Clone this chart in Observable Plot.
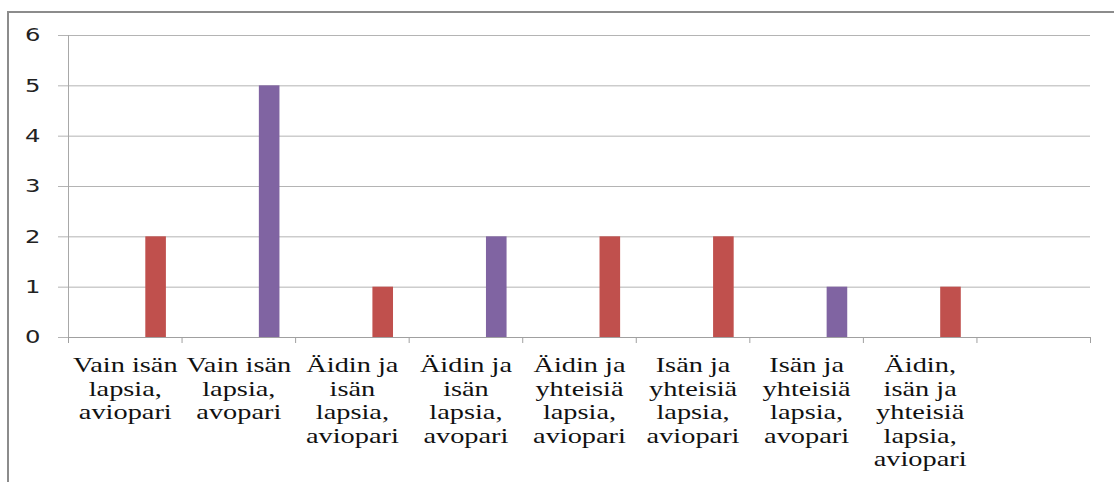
<!DOCTYPE html>
<html>
<head>
<meta charset="utf-8">
<script src="https://cdn.jsdelivr.net/npm/d3@7"></script>
<script src="https://cdn.jsdelivr.net/npm/@observablehq/plot@0.6"></script>
<style>
  html, body { margin: 0; padding: 0; background: #fff; }
  #wrap { position: relative; width: 1114px; height: 482px; overflow: hidden; }
  #border { position: absolute; left: 7px; top: 11px; right: -10px; bottom: -10px;
            border-left: 2px solid #8c8c8c; border-top: 2px solid #8c8c8c; pointer-events: none; }
  svg { display: block; }
  svg text.xlab, svg text.xlab tspan { font-family: "Liberation Serif", "Times New Roman", serif; font-size: 21px; }
  svg text.ylab { font-family: "DejaVu Sans", sans-serif; font-size: 18px; }
</style>
</head>
<body>
<div id="wrap"><div id="border"></div></div>
<script>
// ---- data ----
const categories = [
  "Vain isän\nlapsia,\naviopari",
  "Vain isän\nlapsia,\navopari",
  "Äidin ja\nisän\nlapsia,\naviopari",
  "Äidin ja\nisän\nlapsia,\navopari",
  "Äidin ja\nyhteisiä\nlapsia,\naviopari",
  "Isän ja\nyhteisiä\nlapsia,\naviopari",
  "Isän ja\nyhteisiä\nlapsia,\navopari",
  "Äidin,\nisän ja\nyhteisiä\nlapsia,\naviopari",
  ""
];
const values = [2, 5, 1, 2, 2, 2, 1, 1, null];
const series = ["aviopari", "avopari", "aviopari", "avopari", "aviopari", "aviopari", "avopari", "aviopari", null];
const seriesNames = ["aviopari", "avopari"];
const seriesColors = ["#C0504D", "#8064A2"];
const yTicks = [0, 1, 2, 3, 4, 5, 6];

const rows = categories.map((c, i) => ({category: c, value: values[i], series: series[i]}))
  .filter(d => d.value != null);

// ---- layout ----
const W = 1114, H = 482;
const mL = 68, mR = 24, mT = 35, mB = 145;
const bw = (W - mL - mR) / categories.length;
const gridColor = "#b4b4b4";
const barOffset = 77.3, barWidth = 20.6;
const serifFont = "Liberation Serif, Times New Roman, serif";
const sansFont = "DejaVu Sans, sans-serif";

const chart = Plot.plot({
  width: W, height: H,
  marginLeft: mL, marginRight: mR, marginTop: mT, marginBottom: mB,
  style: {background: "transparent", overflow: "visible"},
  x: {type: "band", domain: categories, padding: 0, round: false, axis: null},
  y: {domain: [0, 6], axis: null},
  color: {domain: seriesNames, range: seriesColors},
  marks: [
    Plot.gridY(yTicks, {stroke: gridColor, strokeOpacity: 1}),
    Plot.axisY(yTicks, {
      tickSize: 10, tickPadding: 18, stroke: gridColor, strokeOpacity: 1,
      fill: "#222", tickFormat: d => String(d), label: null,
      fontFamily: sansFont, fontSize: 18
    }),
    Plot.frame({anchor: "left", stroke: "#a8a8a8"}),
    Plot.axisX(categories, {tickSize: 6, tickFormat: () => "", dx: -bw / 2, stroke: "#a0a0a0", label: null}),
    Plot.axisX([categories[categories.length - 1]], {tickSize: 6, tickFormat: () => "", dx: bw / 2, stroke: "#a0a0a0", label: null}),
    Plot.axisX(categories, {
      tickSize: 0, tickPadding: 18, tickFormat: d => d, fill: "#111",
      lineHeight: 1.12, label: null, fontFamily: serifFont, fontSize: 21
    }),
    Plot.barY(rows, {
      x: "category", y: "value", fill: "series",
      insetLeft: barOffset, insetRight: bw - barOffset - barWidth
    }),
    Plot.ruleY([0], {stroke: "#a0a0a0"})
  ]
});

// fonts and horizontal stretch of the text, as in the reference rendering
const labelTexts = [];
d3.select(chart).selectAll("text").each(function() {
  const txt = this.textContent.trim();
  if (txt === "") return;
  const isY = /^\d+$/.test(txt);
  this.classList.add(isY ? "ylab" : "xlab");
  this.setAttribute("font-family", isY ? sansFont : serifFont);
  this.setAttribute("font-size", isY ? 18 : 21);
  const t = this.getAttribute("transform") || "";
  this.setAttribute("transform", t + " scale(1.35,1)");
  labelTexts.push(this);
});

document.getElementById("wrap").appendChild(chart);

function refreshFonts() {
  for (const el of labelTexts) {
    const isY = el.classList.contains("ylab");
    el.style.fontFamily = isY ? "'DejaVu Sans', sans-serif" : "'Liberation Serif', 'Times New Roman', serif";
    getComputedStyle(el).fontFamily;
    el.getBoundingClientRect();
  }
}
refreshFonts();
if (document.fonts && document.fonts.load) {
  Promise.all([
    document.fonts.load("21px 'Liberation Serif'", "Äidin"),
    document.fonts.load("18px 'DejaVu Sans'", "0123")
  ]).then(refreshFonts, refreshFonts);
}
requestAnimationFrame(refreshFonts);
setTimeout(refreshFonts, 30);
</script>
</body>
</html>
